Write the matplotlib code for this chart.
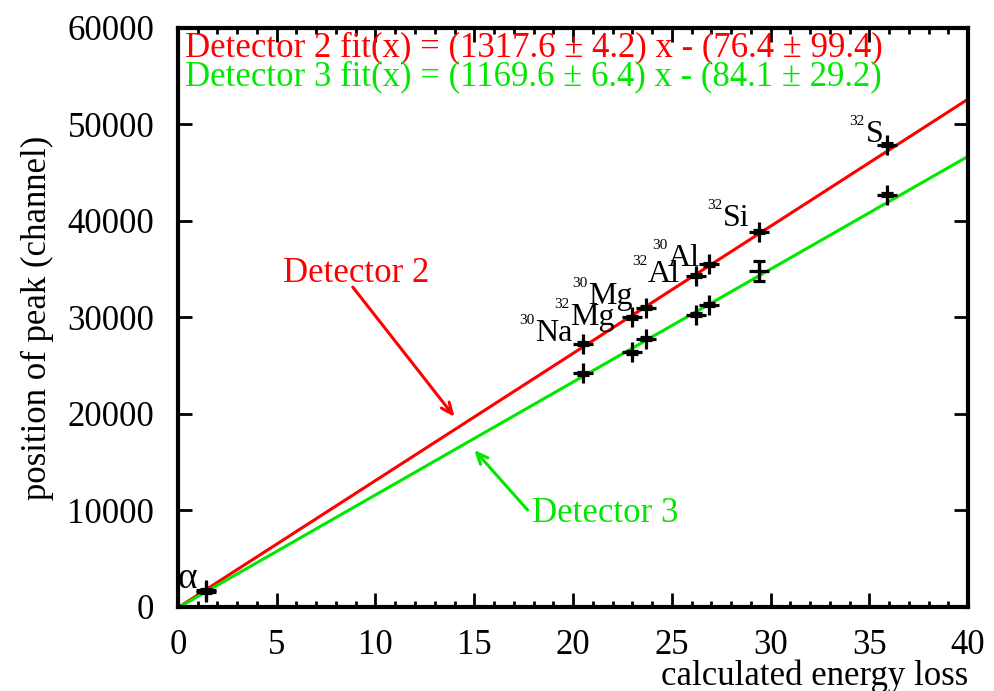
import matplotlib
matplotlib.use("Agg")
import matplotlib.pyplot as plt
from matplotlib.ticker import MultipleLocator
import numpy as np

plt.rcParams["font.family"] = ["Liberation Serif", "DejaVu Serif"]

# --- data: calculated energy loss vs. peak position ---
mass_numbers = ["", "30", "32", "30", "32", "30", "32", "32"]
elements = ["α", "Na", "Mg", "Mg", "Al", "Al", "Si", "S"]
energy = [1.4, 20.5, 23.0, 23.7, 26.2, 26.9, 29.4, 35.9]
peak_det2 = [1760, 27300, 30000, 31000, 34300, 35500, 38900, 47900]
err_det2 = [150, 150, 150, 150, 150, 150, 150, 150]
peak_det3 = [1550, 24200, 26400, 27800, 30300, 31300, 34800, 42700]
err_det3 = [150, 150, 150, 150, 150, 150, 1000, 150]

fit_det2 = (1317.6, 76.4)
fit_det3 = (1169.6, 84.1)

# where the isotope names sit (left edge, baseline)
label_x = [0.0, 18.1, 19.85, 20.75, 23.8, 24.8, 27.6, 34.8]
label_y = [1970, 27560, 29220, 31400, 33680, 35340, 39480, 48190]

RED = "#ff0000"
GREEN = "#00e800"

fig = plt.figure(figsize=(9.94, 6.91), dpi=100)
ax = fig.add_axes([0.179, 0.1216, 0.795, 0.838])

x = np.linspace(0, 40, 200)
ax.plot(x, fit_det2[0] * x - fit_det2[1], color=RED, lw=2.2, zorder=2)
ax.plot(x, fit_det3[0] * x - fit_det3[1], color=GREEN, lw=2.2, zorder=2)

for peaks, errs in ((peak_det2, err_det2), (peak_det3, err_det3)):
    ax.errorbar(energy, peaks, yerr=errs, fmt="+", color="black", ms=14, mew=2.3,
                elinewidth=2.3, capsize=4.5, capthick=2.3, zorder=3)

for mass, elem, lx, ly in zip(mass_numbers, elements, label_x, label_y):
    size = 27 if elem == "α" else 23
    ax.text(lx, ly, elem, fontsize=size, ha="left", va="baseline", zorder=4, clip_on=False)
    if mass:
        ax.annotate(mass, xy=(lx, ly), xytext=(-0.5, 12), textcoords="offset points",
                    fontsize=11, ha="right", va="baseline", zorder=4)

# fit results
ax.text(0.35, 57100, "Detector 2 fit(x) = (1317.6 ± 4.2) x - (76.4 ± 99.4)",
        color=RED, fontsize=25, va="baseline")
ax.text(0.35, 54100, "Detector 3 fit(x) = (1169.6 ± 6.4) x - (84.1 ± 29.2)",
        color=GREEN, fontsize=25, va="baseline")

# arrows pointing at the fit lines
ax.text(5.3, 33700, "Detector 2", color=RED, fontsize=25, va="baseline")
ax.annotate("", xy=(14.0, 19700), xytext=(8.85, 33150),
            arrowprops=dict(arrowstyle="->,head_length=0.8,head_width=0.35", color=RED,
                            lw=2.2, shrinkA=0, shrinkB=0))
ax.text(17.9, 8800, "Detector 3", color=GREEN, fontsize=25, va="baseline")
ax.annotate("", xy=(15.0, 16270), xytext=(17.7, 10050),
            arrowprops=dict(arrowstyle="->,head_length=0.8,head_width=0.35", color=GREEN,
                            lw=2.2, shrinkA=0, shrinkB=0))

ax.set_xlim(0, 40)
ax.set_ylim(0, 60000)
ax.xaxis.set_major_locator(MultipleLocator(5))
ax.xaxis.set_minor_locator(MultipleLocator(1))
ax.yaxis.set_major_locator(MultipleLocator(10000))
ax.tick_params(which="both", direction="in", top=True, right=True, width=2, labelsize=25)
ax.tick_params(axis="x", which="major", length=10, pad=16)
ax.tick_params(axis="y", which="major", length=10, pad=17)
ax.tick_params(which="minor", length=4)
for s in ax.spines.values():
    s.set_linewidth(3)

ax.set_ylabel("position of peak (channel)", fontsize=25, labelpad=10)
fig.text(0.974, 0.009, "calculated energy loss", fontsize=25, ha="right", va="baseline")

plt.savefig("out.png", dpi=100)
